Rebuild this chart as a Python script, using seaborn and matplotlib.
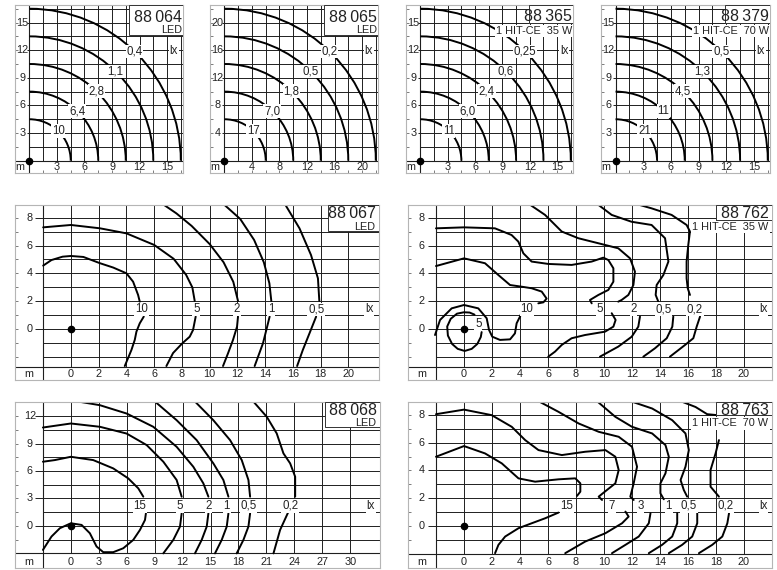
import math
import matplotlib
matplotlib.use('Agg')
import matplotlib.pyplot as plt
from matplotlib import font_manager
from matplotlib.patches import Arc, Rectangle
import seaborn as sns
import pandas as pd

# ---------------- data ----------------
# top row: isolux circles, radius in m
radii_88064 = [4.5, 7.5, 10.5, 13.5, 16.5]
lux_88064 = ['10', '6,4', '2,8', '1,1', '0,4']
radii_88065 = [6, 10, 14, 18, 22]
lux_88065 = ['17', '7,0', '1,8', '0,5', '0,2']
radii_88365 = [4.5, 7.5, 10.5, 13.5, 16.5]
lux_88365 = ['11', '6,0', '2,4', '0,6', '0,25']
radii_88379 = [4.5, 7.5, 10.5, 13.5, 16.5]
lux_88379 = ['21', '11', '4,5', '1,3', '0,5']
ticks_88064 = [3, 6, 9, 12, 15]
ticks_88065 = [4, 8, 12, 16, 20]

# middle / bottom rows: isolux lines (x list, y list) in m
curves_88067 = {
    '10a': ([-2, -1.4, -0.6, 0, 0.9, 2.1, 3.05, 4.0, 4.48, 4.84, 4.96],
            [4.56, 4.96, 5.2, 5.25, 5.18, 4.73, 4.42, 4.01, 3.41, 2.46, 1.98]),
    '10b': ([5.25, 4.96, 4.72, 4.6, 4.36, 3.88], [0.91, 0.43, -0.17, -0.76, -1.48, -2.63]),
    '5a': ([-2, 0, 2.1, 4, 6.0, 7.4, 8.3, 8.75, 8.92], [7.3, 7.47, 7.23, 6.87, 6.04, 5.05, 3.9, 3.0, 2.03]),
    '5b': ([8.99, 8.8, 8.56, 8.03, 7.36, 6.88], [0.91, -0.05, -0.53, -1.0, -1.7, -2.63]),
    '2a': ([6.57, 7.6, 8.7, 10.0, 11.0, 11.7, 12.04], [9.0, 8.3, 7.4, 6.1, 4.8, 3.4, 2.03]),
    '2b': ([12.04, 11.97, 11.68, 11.32, 10.96], [0.91, 0.19, -0.76, -1.72, -2.63]),
    '1a': ([10.96, 12.2, 13.2, 13.9, 14.3, 14.44], [9.0, 7.9, 6.4, 4.8, 3.3, 2.03]),
    '1b': ([14.32, 14.08, 13.84, 13.24], [0.91, -0.05, -1.0, -2.63]),
    '05a': ([15.4, 16.47, 17.3, 17.8, 17.9], [9.0, 7.23, 5.32, 3.65, 2.03]),
    '05b': ([17.67, 17.19, 16.71, 16.3], [0.91, -0.29, -1.48, -2.63]),
}
lux_88067 = ['10', '5', '2', '1', '0,5']
lux_x_88067 = [5.08, 9.04, 11.97, 14.44, 17.67]

curves_88762 = {
    '10a': ([-2, 0, 1.5, 2.45, 3.29, 4.12, 4.83, 5.55, 5.9, 5.67, 5.31],
            [4.53, 5.08, 4.73, 3.89, 3.17, 3.05, 2.94, 2.7, 2.2, 1.93, 1.86]),
    '10b': ([4.15, 4.0, 3.76, 3.64, 3.29, 2.57, 2.02, 1.79, 1.62, 1.02, 0, -0.88, -1.71, -2.07],
            [1.3, 0.91, 0.43, -0.29, -0.72, -0.76, -0.53, -0.05, 0.79, 1.5, 1.74, 1.5, 0.67, -0.41]),
    '5in': ([0.75, 0.4, 0, -0.5, -0.95, -1.2, -1.15, -0.85, -0.45, 0.05, 0.55, 0.95, 1.2, 1.26],
            [1.05, 1.2, 1.22, 1.12, 0.75, 0.2, -0.45, -1.05, -1.4, -1.55, -1.4, -1.05, -0.55, -0.2]),
    '5a': ([-2, 0, 2.21, 3.4, 3.88, 4.24, 4.83, 6.02, 7.69, 9.12, 9.95, 10.31, 10.67, 10.67, 10.31, 9.6, 9.0, 9.12],
           [7.23, 7.3, 7.23, 6.75, 6.28, 5.44, 4.85, 4.68, 4.61, 4.85, 5.13, 4.96, 4.37, 3.41, 2.82, 2.46, 2.1, 1.86]),
    '5b': ([10.55, 10.83, 10.67, 10.07, 8.64, 7.69, 6.98, 6.5, 6.02],
           [1.15, 0.67, 0.19, -0.17, -0.41, -0.64, -1.12, -1.6, -1.96]),
    '2a': ([4.6, 5.79, 6.98, 8.17, 9.6, 11.02, 11.86, 12.21, 12.1, 11.74, 11.26, 11.02],
           [9.0, 8.19, 7.0, 6.52, 6.16, 5.8, 5.08, 4.13, 3.17, 2.46, 2.1, 1.98]),
    '2b': ([12.57, 12.45, 11.98, 11.02, 9.71], [0.91, 0.19, -0.53, -1.24, -1.96]),
    '05a': ([9.48, 10.55, 11.97, 13.4, 14.36, 14.6, 14.24, 13.76, 13.69, 13.88],
            [9.0, 8.19, 7.7, 7.47, 6.52, 4.85, 3.89, 3.17, 2.46, 1.98]),
    '05b': ([14.95, 14.88, 14.48, 13.64, 12.81], [0.91, 0.19, -0.64, -1.36, -1.96]),
    '02a': ([12.21, 13.4, 14.83, 15.9, 16.14, 16.02, 15.9, 15.9, 15.98, 16.14],
            [9.0, 8.66, 8.19, 7.47, 7.0, 6.04, 4.85, 3.65, 2.94, 2.46]),
    '02b': ([16.86, 16.62, 16.38, 15.79, 14.71], [0.91, 0.19, -0.64, -1.12, -1.96]),
}
lux_88762 = ['10', '5', '2', '0,5', '0,2']
lux_x_88762 = [4.48, 9.71, 12.1, 14.24, 16.5]

curves_88068 = {
    '15a': ([-3, -1.72, 0, 2.4, 4.55, 6.16, 7.24, 7.78], [7.02, 7.2, 7.56, 7.2, 6.29, 5.2, 4.11, 3.2]),
    '15b': ([8.06, 7.96, 7.42, 6.7, 5.63, 4.55, 3.48, 2.76, 2.04, 1.15, 0, -1.18, -2.08, -3],
            [1.38, 0.65, -0.44, -1.53, -2.44, -2.87, -2.87, -2.25, -0.8, 0.11, 0.29, -0.25, -1.16, -2.62]),
    '5a': ([-3, 0, 3.12, 5.99, 8.14, 9.93, 11.36, 11.9], [10.76, 11.2, 10.84, 10.1, 8.84, 7.02, 5.02, 3.2]),
    '5b': ([11.9, 11.72, 11.0, 9.93], [1.38, -0.07, -1.53, -3.0]),
    '2a': ([0.79, 3.12, 5.99, 8.85, 11.36, 13.15, 14.23, 14.77], [13.6, 13.2, 12.29, 10.84, 8.65, 6.47, 4.65, 3.2]),
    '2b': ([14.77, 14.59, 14.05, 13.33], [1.38, -0.07, -1.53, -3.0]),
    '1a': ([9.03, 11.36, 13.51, 15.3, 16.38, 16.92], [13.6, 11.56, 9.38, 6.84, 5.02, 3.2]),
    '1b': ([16.92, 16.74, 16.2, 15.48], [1.38, -0.07, -1.53, -3.0]),
    '05a': ([13.33, 15.3, 17.1, 18.35, 19.07, 19.25], [13.6, 11.56, 9.38, 7.2, 5.02, 3.2]),
    '05b': ([19.25, 19.07, 18.53, 17.81], [1.38, -0.07, -1.53, -3.0]),
    '02a': ([19.6, 21.04, 22.11, 22.83, 23.55, 24.09, 24.09], [13.6, 11.93, 10.11, 7.93, 6.84, 5.38, 3.2]),
    '02b': ([23.37, 22.47, 21.76], [1.56, -0.44, -3.0]),
}
lux_88068 = ['15', '5', '2', '1', '0,5', '0,2']
lux_x_88068 = [7.42, 11.72, 14.77, 16.74, 19.07, 23.55]

curves_88763 = {
    '15a': ([-2, 0, 1.5, 2.7, 3.89, 5.08, 6.75, 7.95, 8.31, 8.31, 8.07],
            [4.99, 5.76, 5.23, 4.51, 3.43, 3.19, 3.36, 3.43, 3.07, 2.47, 2.16]),
    '15b': ([6.75, 5.8, 4.84, 3.89, 2.94, 2.46, 2.22], [0.96, 0.55, 0.19, -0.17, -0.77, -1.37, -1.97]),
    '7a': ([-2, 0, 1.98, 3.41, 4.37, 5.32, 6.99, 8.66, 10.1, 10.81, 11.05, 10.81, 10.21, 9.62, 9.86],
           [8.06, 8.39, 7.99, 7.15, 6.19, 5.47, 5.11, 5.35, 5.47, 4.99, 4.03, 3.07, 2.59, 2.11, 1.87]),
    '7b': ([11.53, 11.76, 11.29, 10.1, 8.66, 7.23], [1.03, 0.67, 0.19, -0.53, -1.13, -1.97]),
    '3a': ([5.32, 6.75, 8.19, 9.62, 11.05, 12.0, 12.36, 12.12, 11.88, 12.12],
           [9.0, 8.23, 7.39, 6.79, 6.43, 5.71, 4.27, 3.07, 2.11, 1.87]),
    '3b': ([13.32, 13.2, 12.48, 11.53, 10.57], [0.91, 0.19, -0.77, -1.37, -1.97]),
    '1a': ([9.5, 10.81, 12.0, 13.44, 14.39, 14.63, 14.39, 14.03, 14.03, 14.27],
           [9.0, 7.87, 7.15, 6.67, 5.83, 4.99, 3.79, 3.07, 2.35, 1.92]),
    '1b': ([15.23, 15.23, 14.87, 14.15, 13.2], [0.91, 0.19, -0.77, -1.37, -1.97]),
    '05a': ([11.89, 13.44, 14.87, 15.82, 16.06, 15.82, 15.47, 15.7, 15.94],
            [9.0, 8.47, 7.63, 6.67, 5.47, 4.27, 3.31, 2.59, 2.11]),
    '05b': ([16.66, 16.66, 16.3, 15.58, 14.63], [0.91, 0.19, -0.77, -1.37, -1.97]),
    '02t': ([15.47, 16.54, 17.37, 18.0], [9.0, 8.58, 8.06, 8.0]),
    '02a': ([18.21, 17.97, 17.61, 17.61, 18.21], [6.19, 5.23, 4.03, 2.83, 2.11]),
    '02b': ([18.93, 18.81, 18.45, 17.73, 16.78], [0.91, 0.19, -0.77, -1.37, -1.97]),
}
lux_88763 = ['15', '7', '3', '1', '0,5', '0,2']
lux_x_88763 = [7.35, 10.57, 12.6, 14.63, 16.06, 18.69]

# ---------------- style ----------------
sns.set_style('white')
names = {f.name for f in font_manager.fontManager.ttflist}
base_font = 'Liberation Sans Narrow' if 'Liberation Sans Narrow' in names else 'Liberation Sans'
plt.rcParams['font.family'] = [base_font, 'DejaVu Sans']

GRID = '#1e1e1e'
TXT = '#222222'
FS_TICK = 7.8
FS_LUX = 8.3
LBL = dict(fc='white', ec='none', pad=0.5)

fig = plt.figure(figsize=(7.77, 5.70), dpi=100)


def add_ax(l, t, r, b):
    return fig.add_axes([l / 777, 1 - b / 570, (r - l) / 777, (b - t) / 570])


def frame(ax, xlim, ylim, yt):
    ax.set_xlim(xlim)
    ax.set_ylim(ylim)
    ax.set_xlabel('')
    ax.set_ylabel('')
    for s in ax.spines.values():
        s.set_color('#b5b5b5')
        s.set_linewidth(0.8)
    ax.set_yticks(yt)
    ax.tick_params(left=True, bottom=False, direction='in', length=2.5, width=0.6,
                   color='#666666', labelleft=False, labelbottom=False)


def grid(ax, gx, gy, x0, y0, ylab, ext):
    xmin, xmax = ax.get_xlim()
    ymin, ymax = ax.get_ylim()
    ax.vlines(gx, y0, ymax, color=GRID, lw=0.7, zorder=1)
    ax.hlines(gy, x0, xmax, color=GRID, lw=0.7, zorder=1)
    ax.hlines(ylab, ext, x0, color=GRID, lw=0.7, zorder=1)
    ax.axvline(x0, color=GRID, lw=0.8, zorder=1)
    ax.axhline(y0, color=GRID, lw=0.8, zorder=1)


def title(ax, box, code, sub, x, y1, y2, hit):
    xmin, xmax = ax.get_xlim()
    ymin, ymax = ax.get_ylim()
    ax.add_patch(Rectangle((box[0], box[1]), xmax - box[0], ymax - box[1], fc='white',
                           ec='#333333', lw=0.7, zorder=4))
    ax.text(x, y1, code, ha='right', va='center', fontsize=11.5, color=TXT, zorder=5)
    ax.text(x, y2, sub, ha='right', va='center', fontsize=7.8, color=TXT, zorder=5,
            bbox=dict(fc='white', ec='none', pad=0.8) if hit else None)


def top_panel(pos, radii, lux, u, ticks, code, sub, hit):
    ax = add_ax(*pos)
    xlim = (-1.05 * u, 11.16 * u)
    ylim = (-0.89 * u, 11.27 * u)
    g = [k * u for k in range(12)]
    frame(ax, xlim, ylim, g)
    ax.set_xticks(g[1:])
    ax.tick_params(bottom=True)
    grid(ax, g[1:], g[1:], 0, 0, ticks, -0.2 * u)
    for r, lab in zip(radii, lux):
        ax.add_patch(Arc((0, 0), 2 * r, 2 * r, theta1=0, theta2=90, color='black', lw=1.4, zorder=2))
        a = math.radians(46)
        ax.text(r * math.cos(a), r * math.sin(a), lab, ha='center', va='center',
                fontsize=FS_LUX, color=TXT, bbox=LBL, zorder=3)
    for t in ticks:
        ax.text(-0.5 * u, t, str(t), ha='center', va='center', fontsize=FS_TICK, color=TXT)
        ax.text(t, -0.43 * u, str(t), ha='center', va='center', fontsize=FS_TICK, color=TXT)
    ax.text(-0.68 * u, -0.43 * u, 'm', ha='center', va='center', fontsize=FS_TICK, color=TXT)
    ax.text(10.5 * u, 7.97 * u, 'lx', ha='center', va='center', fontsize=FS_LUX, color=TXT, bbox=LBL, zorder=3)
    ax.plot([0], [0], 'o', ms=4.5, color='black', zorder=6)
    if hit:
        title(ax, (7.93 * u, 10.0 * u), code, sub, 11.1 * u, 10.45 * u, 9.4 * u, True)
    else:
        title(ax, (7.2 * u, 9.13 * u), code, sub, 11.1 * u, 10.4 * u, 9.45 * u, False)


def iso_panel(pos, xlim, ylim, step_x, step_y, ylab_vals, xlab_vals, x0, y0, curves,
              lux, lux_x, lux_y, lx_x, ylab_x, xlab_y, code, sub, box, ty1, ty2, hit):
    ax = add_ax(*pos)
    rows = [(k, x, y) for k, (xs, ys) in curves.items() for x, y in zip(xs, ys)]
    df = pd.DataFrame(rows, columns=['seg', 'x', 'y'])
    sns.lineplot(data=df, x='x', y='y', units='seg', estimator=None, sort=False,
                 color='black', lw=1.4, ax=ax, legend=False, zorder=2)
    gx = [x0 + step_x * k for k in range(1, 40) if x0 + step_x * k < xlim[1] - 0.5]
    gy = [y for y in [step_y * k for k in range(-3, 20)] if y0 < y < ylim[1] - 0.1]
    frame(ax, xlim, ylim, gy + [y0])
    grid(ax, gx, gy, x0, y0, ylab_vals, x0 - 0.3 * step_x)
    for lab, lxv in zip(lux, lux_x):
        ax.text(lxv, lux_y, lab, ha='center', va='center', fontsize=FS_LUX, color=TXT, bbox=LBL, zorder=3)
    ax.text(lx_x, lux_y, 'lx', ha='center', va='center', fontsize=FS_LUX, color=TXT, bbox=LBL, zorder=3)
    for v in ylab_vals:
        ax.text(ylab_x, v, str(v), ha='center', va='center', fontsize=FS_TICK, color=TXT)
    for v in xlab_vals:
        ax.text(v, xlab_y, str(v), ha='center', va='center', fontsize=FS_TICK, color=TXT)
    ax.text((xlim[0] + x0) / 2, xlab_y, 'm', ha='center', va='center', fontsize=FS_TICK, color=TXT)
    ax.plot([0], [0], 'o', ms=4.5, color='black', zorder=6)
    title(ax, box, code, sub, xlim[1] - 0.25 * step_x / 2, ty1, ty2, hit)
    return ax


top_panel((15, 5, 183, 173), radii_88064, lux_88064, 1.5, ticks_88064, '88\u2009064', 'LED', False)
top_panel((210, 5, 378, 173), radii_88065, lux_88065, 2.0, ticks_88065, '88\u2009065', 'LED', False)
top_panel((406, 5, 573, 173), radii_88365, lux_88365, 1.5, ticks_88064, '88\u2009365', '1 HIT-CE  35 W', True)
top_panel((601, 5, 770, 173), radii_88379, lux_88379, 1.5, ticks_88064, '88\u2009379', '1 HIT-CE  70 W', True)

iso_panel((15, 205, 379, 380), (-4.03, 22.2), (-3.63, 8.9), 2, 1, [8, 6, 4, 2, 0],
          list(range(0, 21, 2)), -2, -2.67, curves_88067, lux_88067, lux_x_88067, 1.43, 21.5,
          -3.0, -3.2, '88\u2009067', 'LED', (18.5, 7.04), 8.3, 7.35, False)
iso_panel((408, 205, 772, 380), (-4.0, 22.0), (-3.63, 8.9), 2, 1, [8, 6, 4, 2, 0],
          list(range(0, 21, 2)), -2, -2.67, curves_88762, lux_88762, lux_x_88762, 1.45, 21.4,
          -3.0, -3.2, '88\u2009762', '1 HIT-CE  35 W', (17.98, 7.8), 8.3, 7.35, True)
ax6 = fig.axes[-1]
ax6.text(1.02, 0.38, '5', ha='center', va='center', fontsize=FS_LUX, color=TXT, bbox=LBL, zorder=3)
iso_panel((15, 402, 380, 568), (-6.0, 33.2), (-4.6, 13.55), 3, 1.5, [12, 9, 6, 3, 0],
          list(range(0, 31, 3)), -3, -3.0, curves_88068, lux_88068, lux_x_88068, 2.18, 32.2,
          -4.4, -3.95, '88\u2009068', 'LED', (27.3, 10.84), 12.65, 11.2, False)
iso_panel((408, 402, 772, 568), (-4.0, 22.0), (-3.04, 8.94), 2, 1, [8, 6, 4, 2, 0],
          list(range(0, 21, 2)), -2, -2.0, curves_88763, lux_88763, lux_x_88763, 1.44, 21.4,
          -3.0, -2.62, '88\u2009763', '1 HIT-CE  70 W', (17.97, 7.99), 8.35, 7.39, True)

fig.savefig('out.png', dpi=100)
